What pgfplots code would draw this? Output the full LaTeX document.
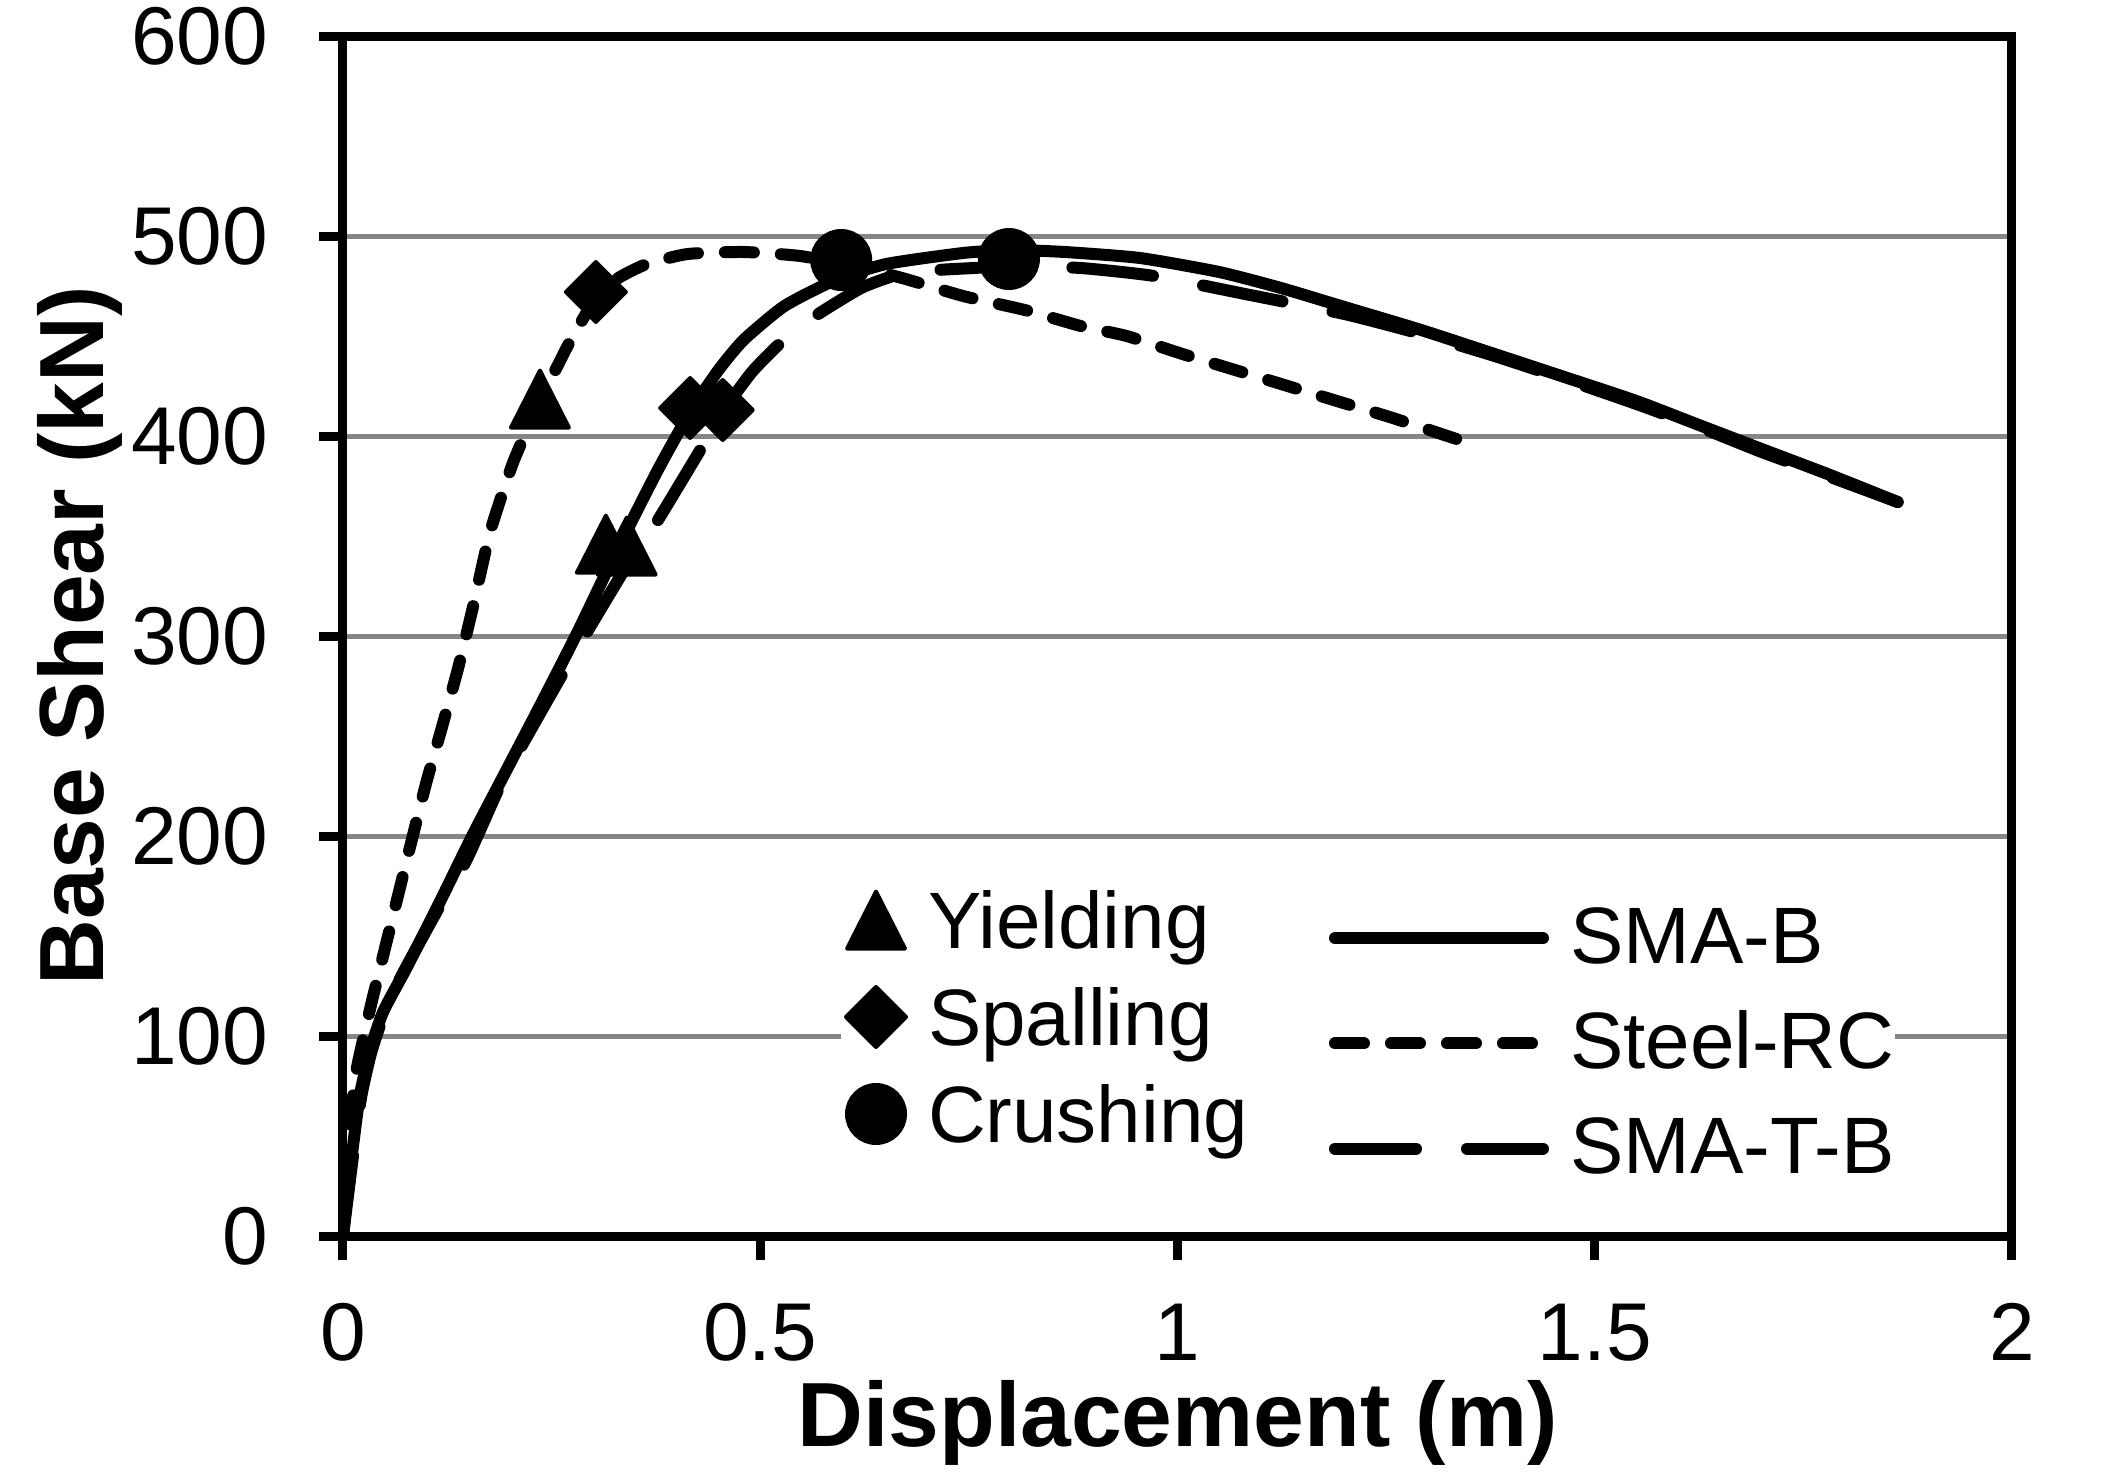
\documentclass[border=0pt]{standalone}
\usepackage{fontspec}
\setmainfont{Liberation Sans}
\usepackage{pgfplots}
\usepackage{pgfplotstable}
\pgfplotsset{compat=1.18}
\definecolor{gridgray}{RGB}{134,134,134}

\pgfplotstableread{
x y
0 0
0.006 25
0.012 45
0.020 70
0.032 92
0.048 112
0.076 134
0.116 167
0.156 201
0.196 233
0.236 265
0.28 301
0.325 340
0.376 382
0.416 412
0.45 433
0.48 448
0.529 465
0.59 478
0.651 486
0.743 491.5
0.80 493
0.865 492
0.955 489
1.05 482
1.124 474
1.2 464.5
1.292 453
1.38 441
1.46 430
1.55 417.5
1.628 405
1.70 393.5
1.779 381
1.863 367
}\smab

\pgfplotstableread{
x y
0 0
0.006 45
0.015 80
0.025 100
0.035 118
0.051 145
0.067 172
0.083 199
0.100 227
0.119 255
0.138 284
0.156 315
0.175 350
0.19 370
0.205 388
0.236 418
0.257 435
0.273 448
0.303 469
0.33 479
0.364 486
0.413 491
0.480 492
0.548 490
0.610 485
0.670 479
0.743 470
0.817 463
0.884 455
0.939 450
1.006 441
1.069 433
1.132 425
1.195 417
1.258 409
1.338 398
}\steel

\pgfplotstableread{
x y
0 0
0.012 40
0.022 70
0.034 92
0.05 112
0.07 130
0.116 165
0.148 188
0.188 225
0.214 245
0.263 281
0.291 301
0.34 335
0.376 357
0.431 395
0.46 415
0.49 432
0.523 446
0.566 460
0.621 474
0.664 480.5
0.713 483
0.756 484
0.80 485
0.884 484
0.972 480
1.081 471
1.2 461
1.292 451
1.38 440
1.46 429
1.55 416
1.628 404
1.70 392
1.779 380
1.863 367
}\smatb

\pgfplotstableread{
x y
0.236 418.5
0.315 346
0.340 345
}\yielding

\pgfplotstableread{
x y
0.303 472
0.416 414
0.455 413
}\spalling

\pgfplotstableread{
x y
0.597 488
0.798 488.5
}\crushing

\begin{document}
\begin{tikzpicture}
\useasboundingbox (-85.75pt,-61.5pt) rectangle (442.5pt,309pt);
\pgfplotsset{
  base/.style={
    scale only axis, width=417.25pt, height=300pt,
    xmin=0, xmax=2, ymin=0, ymax=600,
  },
}
\begin{axis}[base,
  xtick={0,0.5,1,1.5,2},
  ytick={0,100,200,300,400,500,600},
  tick pos=left, tick align=inside, major tick length=-6pt,
  axis line style={line width=2.25pt, black},
  every tick/.style={black, line width=2.25pt},
  ymajorgrids,
  major grid style={gridgray, line width=1.25pt},
  /pgf/number format/assume math mode=true,
  ticklabel style={font=\fontsize{20.5}{24}\selectfont},
  xticklabel style={inner sep=0pt, anchor=north, yshift=-16.7pt},
  yticklabel style={inner sep=0pt, anchor=east, xshift=-18.5pt},
  xlabel={Displacement (m)},
  ylabel={Base Shear (kN)},
  label style={font=\bfseries\fontsize{22.8}{27}\selectfont},
  xlabel style={at={(axis description cs:0.5,-0.175)}, anchor=base, inner sep=0pt},
  ylabel style={at={(axis description cs:-0.1432,0.5)}, anchor=base, inner sep=0pt},
  legend cell align=left,
  legend style={at={(axis cs:1.0809,168.5)}, anchor=north west,
    draw=none, fill=white, inner sep=0pt, outer sep=0pt,
    row sep=6.3pt, column sep=5.25pt,
    font=\fontsize{20}{24}\selectfont,
    nodes={anchor=base west, inner sep=0pt, text height=16pt, text depth=4pt}},
  legend image code/.code={
    \path[draw=none, fill=none] (-21pt,-4pt) rectangle (55pt,16pt);
    \draw[#1, line cap=round] (1.5pt,6.2pt) -- (53.5pt,6.2pt);
  },
]
\addplot[black, line width=3pt, line cap=round, line join=round, smooth, tension=0.35] table {\smab};
\addlegendentry{SMA-B}
\addplot[black, line width=3pt, line cap=round, line join=round, smooth, tension=0.35,
  dash pattern=on 7.25pt off 6.75pt] table {\steel};
\addlegendentry{Steel-RC}
\addplot[black, line width=3pt, line cap=round, line join=round, smooth, tension=0.35,
  dash pattern=on 20.25pt off 12.75pt] table {\smatb};
\addlegendentry{SMA-T-B}
\end{axis}

\begin{axis}[base, hide axis,
  legend cell align=left,
  legend style={at={(axis cs:0.5968,176)}, anchor=north west,
    draw=none, fill=white, inner sep=0pt, outer sep=0pt,
    row sep=4.25pt, column sep=0pt,
    font=\fontsize{20}{24}\selectfont,
    nodes={anchor=base west, inner sep=0pt, text height=16pt, text depth=4pt}},
  legend image code/.code={
    \path[draw=none, fill=none] (0pt,-4pt) rectangle (21.75pt,16pt);
    \draw[#1, only marks] plot coordinates {(8.75pt,7pt)};
  },
]
\addplot[only marks, black, mark=triangle*, mark size=9.5pt,
  mark options={solid, fill=black, draw=black, line width=1pt, line join=round, xscale=0.88, yshift=-2.4pt}] table {\yielding};
\addlegendentry{Yielding}
\addplot[only marks, black, mark=square*, mark size=5.3pt,
  mark options={solid, fill=black, draw=black, line width=1pt, line join=round, rotate=45}] table {\spalling};
\addlegendentry{Spalling}
\addplot[only marks, black, mark=*, mark size=7.25pt,
  mark options={solid, fill=black, draw=black, line width=1pt}] table {\crushing};
\addlegendentry{Crushing}
\end{axis}
\end{tikzpicture}
\end{document}
